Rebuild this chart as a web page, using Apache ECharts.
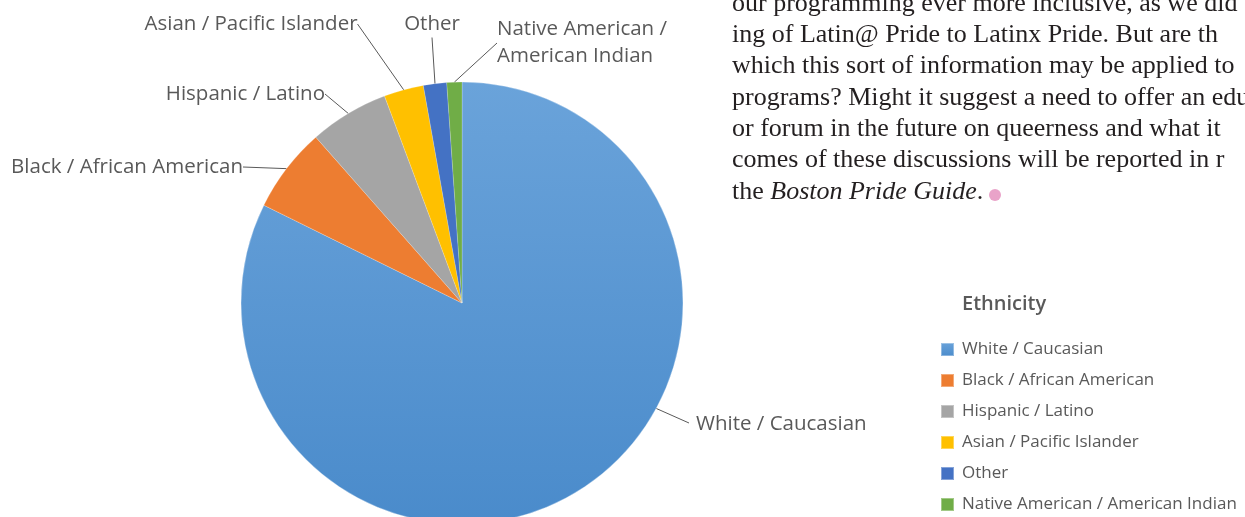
<!DOCTYPE html>
<html>
<head>
<meta charset="utf-8">
<script src="https://cdn.jsdelivr.net/npm/echarts@6/dist/echarts.min.js"></script>
<style>
  html, body { margin: 0; padding: 0; background: #fff; }
  #chart { width: 1245px; height: 517px; }
</style>
</head>
<body>
<div id="chart"></div>
<script>
// ethnicity shares (percent)
const groups = ["White / Caucasian", "Black / African American", "Hispanic / Latino",
  "Asian / Pacific Islander", "Other", "Native American / American Indian"];
const shares = [82.3, 6.2, 5.8, 2.9, 1.7, 1.1];
const sliceLabels = ["White / Caucasian", "Black / African American", "Hispanic / Latino",
  "Asian / Pacific Islander", "Other", "Native American /\nAmerican Indian"];

// page text next to the chart
const bodyLines = [
  "our programming ever more inclusive, as we did",
  "ing of Latin@ Pride to Latinx Pride. But are th",
  "which this sort of information may be applied to",
  "programs? Might it suggest a need to offer an edu",
  "or forum in the future on queerness and what it",
  "comes of these discussions will be reported in r"
];

const colors = ["#5b9bd5", "#ed7d31", "#a5a5a5", "#ffc000", "#4472c4", "#70ad47"];

// where each slice label sits
const labelSpots = [
  { x: 696, y: 424, align: "left" },
  { x: 243, y: 167, align: "right" },
  { x: 325, y: 94, align: "right" },
  { x: 251, y: 24, align: "center" },
  { x: 432, y: 24, align: "center" },
  { x: 497, y: 43, align: "left" }
];

const cx = 462, cy = 303, R = 221;

const chart = echarts.init(document.getElementById("chart"));

const gray = "#595959";
const sans = "'Open Sans', sans-serif";
const serif = "'Liberation Serif', serif";
const ink = "#231f20";

const graphics = bodyLines.map(function (t, i) {
  return {
    type: "text",
    left: 732,
    top: 10 + i * 31.3 - 19,
    style: { text: t, font: "26px " + serif, fill: ink }
  };
});
graphics.push({
  type: "text",
  left: 732,
  top: 10 + 6 * 31.3 - 19,
  style: {
    rich: { i: { fontStyle: "italic", fontFamily: "Liberation Serif", fontSize: 26, fill: ink } },
    text: "the {i|Boston Pride Guide}.",
    font: "26px " + serif,
    fill: ink
  }
});
graphics.push({
  type: "circle",
  shape: { cx: 995, cy: 195, r: 6 },
  style: { fill: "#e9a3c9" }
});

const option = {
  color: colors,
  title: {
    text: "Ethnicity",
    left: 957,
    top: 289,
    textStyle: { color: gray, fontFamily: sans, fontSize: 20, fontWeight: 600 }
  },
  legend: {
    orient: "vertical",
    left: 935,
    top: 336,
    height: 230,
    itemWidth: 13,
    itemHeight: 13,
    itemGap: 14,
    icon: "rect",
    data: groups,
    textStyle: { color: gray, fontFamily: sans, fontSize: 17, padding: [0, 0, 0, 3] }
  },
  graphic: graphics,
  series: [
    {
      type: "pie",
      center: [cx, cy],
      radius: R,
      startAngle: 90,
      clockwise: true,
      silent: true,
      data: groups.map(function (g, i) {
        return { name: g, value: shares[i] };
      }),
      itemStyle: {
        color: function (p) {
          if (p.dataIndex === 0) {
            return new echarts.graphic.LinearGradient(0, 0, 0, 1, [
              { offset: 0, color: "#6aa3da" },
              { offset: 1, color: "#4a8bcb" }
            ]);
          }
          return colors[p.dataIndex];
        },
        borderColor: "rgba(255,255,255,0.35)",
        borderWidth: 0.5
      },
      label: {
        show: true,
        formatter: function (p) { return sliceLabels[p.dataIndex]; },
        color: gray,
        fontFamily: sans,
        fontSize: 20.5,
        lineHeight: 27
      },
      labelLine: {
        show: true,
        length: 15,
        length2: 0,
        lineStyle: { color: gray, width: 1 }
      },
      labelLayout: function (p) {
        const s = labelSpots[p.dataIndex];
        const out = { x: s.x, y: s.y, align: s.align, verticalAlign: "middle" };
        if (p.dataIndex === 0) {
          // the big slice's leader leaves the rim at about 118 degrees from the top
          const a = 118.5 * Math.PI / 180;
          out.labelLinePoints = [
            [cx + R * Math.sin(a), cy - R * Math.cos(a)],
            [s.x - 7, s.y - 1],
            [s.x - 7, s.y - 1]
          ];
        }
        return out;
      }
    }
  ]
};

chart.setOption(option);
</script>
</body>
</html>
